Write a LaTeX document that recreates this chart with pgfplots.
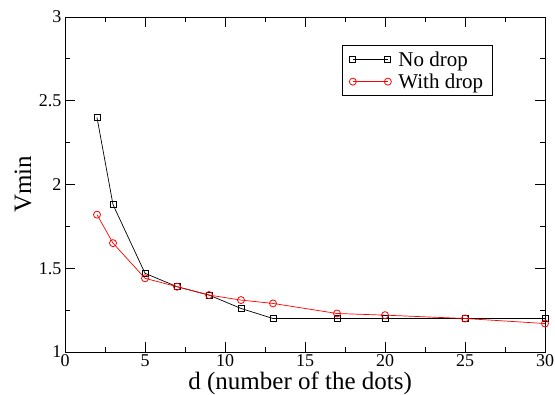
\documentclass[border=0pt]{standalone}
\usepackage{pgfplots}
\pgfplotsset{compat=1.18}
\usepackage{fontspec}
\setmainfont{Liberation Serif}
\begin{document}
\begin{tikzpicture}
\begin{axis}[
  name=ax,
  scale only axis,
  width=480pt, height=335pt,
  xmin=0, xmax=30, ymin=1, ymax=3,
  xtick={0,5,...,30}, ytick={1,1.5,...,3},
  yticklabels={1,1.5,2,2.5,3},
  minor x tick num=1, minor y tick num=1,
  tick align=inside,
  major tick length=10pt, minor tick length=5pt,
  every tick/.style={black, line width=0.8pt},
  axis line style={line width=0.9pt},
  /pgf/number format/assume math mode=true,
  tick label style={font=\fontsize{18}{18}\selectfont},
  xticklabel style={yshift=1pt},
  label style={font=\fontsize{25}{25}\selectfont},
  xlabel={d (number of the dots)},
  ylabel={Vmin},
  xlabel style={at={(axis description cs:0.49,0)}, anchor=base, yshift=-37.5pt, inner sep=0pt, text height=16pt, text depth=5pt},
  ylabel style={at={(axis description cs:-0.0875,0.5)}, anchor=center},
  legend style={at={(0.577,0.916)}, anchor=north west, draw=black, line width=0.8pt,
    font=\fontsize{21}{23}\selectfont, inner xsep=7pt, inner ysep=4pt, row sep=2pt,
    /tikz/every odd column/.append style={column sep=5pt}},
  legend cell align=left,
  legend image code/.code={\draw[mark repeat=2, mark phase=1, #1] plot coordinates {(0pt,0pt) (17.5pt,0pt) (35pt,0pt)};},
]
\addplot[black, line width=0.7pt, mark=square, mark size=3pt, mark options={line width=0.8pt}] coordinates {
(2,2.40) (3,1.88) (5,1.47) (7,1.39) (9,1.34) (11,1.26) (13,1.20) (17,1.20) (20,1.20) (25,1.20) (30,1.20)};
\addlegendentry{No drop}
\addplot[red, line width=0.7pt, mark=o, mark size=3.5pt, mark options={line width=0.8pt}] coordinates {
(2,1.82) (3,1.65) (5,1.44) (7,1.39) (9,1.34) (11,1.31) (13,1.29) (17,1.23) (20,1.22) (25,1.20) (30,1.17)};
\addlegendentry{With drop}
\end{axis}
\pgfresetboundingbox
\path ([xshift=-65pt,yshift=-42pt]ax.south west) rectangle ([xshift=10pt,yshift=17pt]ax.north east);
\end{tikzpicture}
\end{document}
